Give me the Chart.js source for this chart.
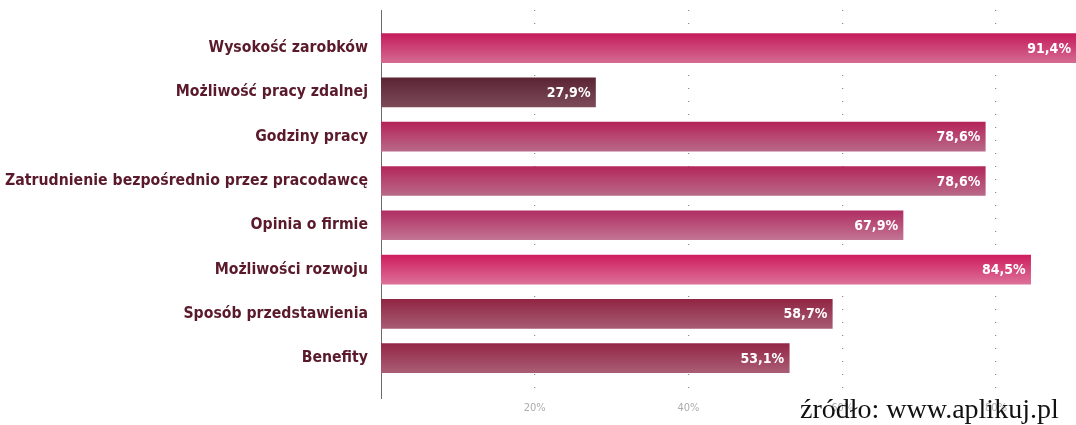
<!DOCTYPE html>
<html>
<head>
<meta charset="utf-8">
<script src="https://cdn.jsdelivr.net/npm/chart.js@4/dist/chart.umd.min.js"></script>
<style>
  html, body { margin: 0; padding: 0; background: #fff; overflow: hidden; }
  #wrap { position: relative; width: 1076px; height: 425px; }
  #source {
    position: absolute; left: 800px; top: 394px; line-height: 30px;
    font-family: "Liberation Serif", "DejaVu Serif", serif;
    font-size: 28px; color: #111; white-space: nowrap;
  }
</style>
</head>
<body>
<div id="wrap">
  <canvas id="chart" width="1076" height="425"></canvas>
  <div id="source">źródło: www.aplikuj.pl</div>
</div>
<script>
const categories = [
  'Wysokość zarobków',
  'Możliwość pracy zdalnej',
  'Godziny pracy',
  'Zatrudnienie bezpośrednio przez pracodawcę',
  'Opinia o firmie',
  'Możliwości rozwoju',
  'Sposób przedstawienia',
  'Benefity'
];
const shares = [91.4, 27.9, 78.6, 78.6, 67.9, 84.5, 58.7, 53.1];
const tickValues = [20, 40, 60, 80];

// bar colours, top edge -> bottom edge
const barTop = ['#c51d5c', '#5c2534', '#b5255a', '#b3285b', '#b02f63', '#cf1f5e', '#912644', '#942848'];
const barBottom = ['#d46990', '#7b4a58', '#b96888', '#b96888', '#c27393', '#dc6f97', '#a65b72', '#a95c74'];

const labelFont = '"Liberation Sans Narrow", "DejaVu Sans Condensed", sans-serif';

function fmt(v) {
  return v.toFixed(1).replace('.', ',') + '%';
}

const valueLabels = {
  id: 'valueLabels',
  afterDatasetsDraw(chart) {
    const ctx = chart.ctx;
    const area = chart.chartArea;
    const meta = chart.getDatasetMeta(0);
    ctx.save();
    ctx.fillStyle = '#ffffff';
    ctx.font = 'bold 14px ' + labelFont;
    ctx.textAlign = 'right';
    ctx.textBaseline = 'middle';
    meta.data.forEach((bar, i) => {
      const end = Math.min(bar.x, area.right);
      ctx.fillText(fmt(shares[i]), end - 5, bar.y + 1);
    });
    ctx.restore();
  }
};

new Chart(document.getElementById('chart'), {
  type: 'bar',
  data: {
    datasets: [{
      data: shares.map((v, i) => ({ x: v, y: i })),
      barThickness: 29,
      borderWidth: 0,
      backgroundColor: ctx => {
        const i = ctx.dataIndex;
        const y = ctx.chart.scales && ctx.chart.scales.y;
        if (ctx.type !== 'data' || !y) return barTop[i];
        const c = y.getPixelForValue(i);
        if (!isFinite(c)) return barTop[i];
        const g = ctx.chart.ctx.createLinearGradient(0, c - 14, 0, c + 14);
        g.addColorStop(0, barTop[i]);
        g.addColorStop(1, barBottom[i]);
        return g;
      }
    }]
  },
  options: {
    indexAxis: 'y',
    responsive: false,
    animation: false,
    layout: { padding: { top: 10, right: 0, bottom: 0, left: 0 } },
    plugins: {
      legend: { display: false },
      tooltip: { enabled: false }
    },
    scales: {
      x: {
        type: 'linear',
        min: 0,
        max: 90.4,
        bounds: 'data',
        afterFit: s => { s.height = 27; s.paddingLeft = 0; s.paddingRight = 0; },
        afterBuildTicks: s => { s.ticks = tickValues.map(v => ({ value: v })); },
        ticks: {
          padding: 4,
          color: '#acacac',
          font: { family: labelFont, size: 11 },
          callback: v => v + '%'
        },
        grid: {
          drawTicks: false,
          color: '#8a8a8a',
          lineWidth: 1.2
        },
        border: { display: false, dash: [1, 12] }
      },
      y: {
        type: 'linear',
        reverse: true,
        bounds: 'data',
        offset: false,
        grace: 0,
        min: -0.86,
        max: 7.9,
        afterFit: s => { s.width = 381; s.paddingTop = 0; s.paddingBottom = 0; },
        afterBuildTicks: s => { s.ticks = categories.map((c, i) => ({ value: i })); },
        ticks: {
          autoSkip: false,
          padding: 13,
          color: '#5a1a2c',
          font: { family: labelFont, size: 15.7, weight: 'bold' },
          callback: v => categories[v] !== undefined ? categories[v] : ''
        },
        grid: { display: false, drawTicks: false },
        border: { display: true, color: '#6a6a6a', width: 1 }
      }
    }
  },
  plugins: [valueLabels]
});
</script>
</body>
</html>
